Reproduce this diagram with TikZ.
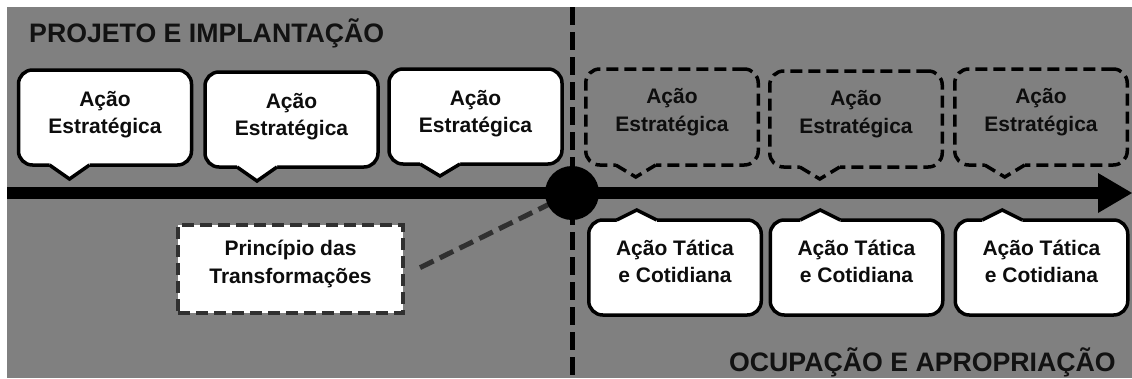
\documentclass[tikz,border=0pt]{standalone}
\usepackage{fontspec}
\setmainfont{Liberation Sans}
\usetikzlibrary{calc}
\definecolor{bgray}{HTML}{808080}
\definecolor{dk}{HTML}{303030}
\pgfdeclarelayer{bglayer}
\pgfdeclarelayer{midlayer}
\pgfsetlayers{bglayer,midlayer,main}
% pointer below a box: #1 node, #2 tip offset from west, #3 height, #4 edge style, #5 cover fill
\newcommand\ptrdn[5]{%
  \fill[#5] ($(#1.south west)+(#2-20,-3)$) -- ($(#1.south west)+(#2+20,-3)$) -- ($(#1.south west)+(#2+20,0)$) -- ($(#1.south west)+(#2,#3)$) -- ($(#1.south west)+(#2-20,0)$) -- cycle;
  \draw[#4] ($(#1.south west)+(#2-20,0)$) -- ($(#1.south west)+(#2,#3)$) -- ($(#1.south west)+(#2+20,0)$);}
\newcommand\ptrup[5]{%
  \fill[#5] ($(#1.north west)+(#2-20,3)$) -- ($(#1.north west)+(#2+20,3)$) -- ($(#1.north west)+(#2+20,0)$) -- ($(#1.north west)+(#2,-#3)$) -- ($(#1.north west)+(#2-20,0)$) -- cycle;
  \draw[#4] ($(#1.north west)+(#2-20,0)$) -- ($(#1.north west)+(#2,-#3)$) -- ($(#1.north west)+(#2+20,0)$);}
\begin{document}
\begin{tikzpicture}[x=1pt,y=-1pt,
  wbox/.style={draw=black, fill=white, line width=3.5pt, rounded corners=14pt, outer sep=0pt, inner sep=0pt},
  dbox/.style={draw=black, line width=3.5pt, dash pattern=on 12pt off 6pt, rounded corners=14pt, outer sep=0pt, inner sep=0pt},
  topsize/.style={minimum width=173pt, minimum height=95pt},
  dsize/.style={minimum width=172.5pt, minimum height=96pt},
  botsize/.style={minimum width=172.5pt, minimum height=95pt},
  wedge/.style={draw=black, line width=3.5pt, line join=miter},
  dedge/.style={draw=black, line width=3.5pt, line join=miter, dash pattern=on 12pt off 6pt},
  txt/.style={font=\bfseries\fontsize{21}{27.5}\selectfont, align=center, inner sep=0pt, text=black!95},
  title/.style={font=\bfseries\fontsize{26.7}{30}\selectfont, inner sep=0pt, text=black!93},
  prinbox/.style={draw=dk, fill=white, line width=4pt, dash pattern=on 12pt off 6pt, outer sep=0pt, inner sep=0pt, minimum width=225pt, minimum height=88pt},
  conn/.style={draw=dk, line width=5pt, dash pattern=on 15pt off 7pt},
  vline/.style={draw=black, line width=5pt, dash pattern=on 18pt off 7pt},
  axis/.style={draw=black, line width=12pt}
]
\useasboundingbox (0,0) rectangle (1132,378);
\begin{pgfonlayer}{bglayer}
\fill[bgray] (7,7) rectangle (1132,378);
\end{pgfonlayer}

% titles
\node[title, anchor=base west] (tl) at (29,42) {PROJETO E IMPLANTAÇÃO};
\node[title, anchor=base east] (tr) at (1116,371) {OCUPAÇÃO E APROPRIAÇÃO};

% timeline
\coordinate (vtop) at (572,7);
\coordinate (vbot) at (572,378);
\coordinate (as) at (7,193);
\coordinate (ae) at (1132,193);
\node[circle, fill=black, minimum size=54pt, inner sep=0pt] (c) at (572,193) {};
\node[prinbox] (prin) at (290.5,269) {};
\node[txt] (print) at ($(prin)+(0,-5)$) {Princípio das\\Transformações};
\begin{pgfonlayer}{midlayer}
\draw[vline] (vtop) -- (vbot);
\draw[axis] (as) -- ($(ae)+(-33,0)$);
\fill[black] (ae) -- ++(-34,-20) -- ++(0,40) -- cycle;
\draw[conn, shorten <=19pt] ($(prin.east)+(0,7)$) -- (c.center);
\end{pgfonlayer}

% top white boxes
\node[wbox, topsize] (e1) at (105,117.5) {};
\ptrdn{e1}{51}{14}{wedge}{white}
\node[txt] (e1t) at ($(e1)+(0,-3)$) {Ação\\Estratégica};
\node[wbox, topsize] (e2) at (291.5,119.5) {};
\ptrdn{e2}{52}{14}{wedge}{white}
\node[txt] (e2t) at ($(e2)+(0,-3)$) {Ação\\Estratégica};
\node[wbox, topsize] (e3) at (475.5,116.5) {};
\ptrdn{e3}{51}{12}{wedge}{white}
\node[txt] (e3t) at ($(e3)+(0,-3)$) {Ação\\Estratégica};

% top dashed boxes
\node[dbox, dsize] (e4) at (672,117) {};
\ptrdn{e4}{50}{12}{dedge}{bgray}
\node[txt] (e4t) at ($(e4)+(0,-5)$) {Ação\\Estratégica};
\node[dbox, dsize] (e5) at (856,119) {};
\ptrdn{e5}{50}{12}{dedge}{bgray}
\node[txt] (e5t) at ($(e5)+(0,-5)$) {Ação\\Estratégica};
\node[dbox, dsize] (e6) at (1041,117) {};
\ptrdn{e6}{50}{12}{dedge}{bgray}
\node[txt] (e6t) at ($(e6)+(0,-5)$) {Ação\\Estratégica};

% bottom white boxes
\node[wbox, botsize] (t1) at (675,267.5) {};
\ptrup{t1}{48}{10}{wedge}{white}
\node[txt] (t1t) at ($(t1)+(0,-6)$) {Ação Tática\\e Cotidiana};
\node[wbox, botsize] (t2) at (856.5,267.5) {};
\ptrup{t2}{50}{10}{wedge}{white}
\node[txt] (t2t) at ($(t2)+(0,-6)$) {Ação Tática\\e Cotidiana};
\node[wbox, botsize] (t3) at (1041.5,267.5) {};
\ptrup{t3}{47}{10}{wedge}{white}
\node[txt] (t3t) at ($(t3)+(0,-6)$) {Ação Tática\\e Cotidiana};
\end{tikzpicture}
\end{document}
